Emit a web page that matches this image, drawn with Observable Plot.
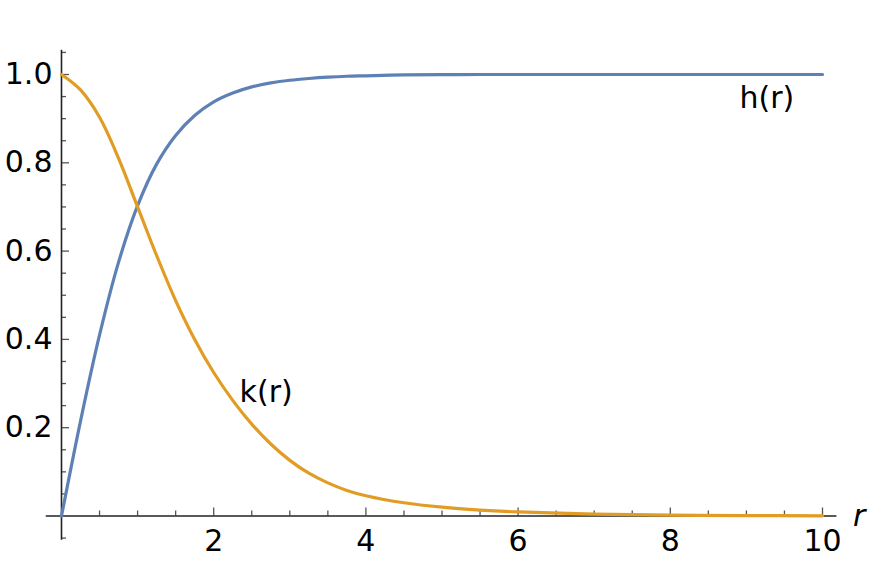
<!DOCTYPE html>
<html>
<head>
<meta charset="utf-8">
<script src="https://cdn.jsdelivr.net/npm/d3@7"></script>
<script src="https://cdn.jsdelivr.net/npm/@observablehq/plot@0.6"></script>
<style>
  html, body { margin: 0; padding: 0; background: #fff; }
</style>
</head>
<body>
<div id="chart"></div>
<script>
// Sample radii and profile values
const rValues = [0, 0.25, 0.5, 0.75, 1.0, 1.25, 1.5, 1.75, 2.0, 2.25, 2.5, 2.75, 3.0, 3.25, 3.5, 3.75, 4.0, 4.5, 5, 5.5, 6, 7, 8, 9, 10];
const hValues = [0, 0.215, 0.41, 0.575, 0.703, 0.797, 0.862, 0.907, 0.938, 0.958, 0.972, 0.981, 0.987, 0.991, 0.994, 0.996, 0.997, 0.999, 0.9997, 1, 1, 1, 1, 1, 1];
const kValues = [1, 0.965, 0.903, 0.81, 0.70, 0.59, 0.488, 0.40, 0.325, 0.262, 0.208, 0.163, 0.126, 0.097, 0.075, 0.058, 0.046, 0.030, 0.020, 0.0135, 0.0092, 0.0044, 0.002, 0.0009, 0.0004];

// Tick positions and labels
const xMajorTicks = [2, 4, 6, 8, 10];
const xMinorTicks = [0.5, 1, 1.5, 2.5, 3, 3.5, 4.5, 5, 5.5, 6.5, 7, 7.5, 8.5, 9, 9.5];
const yMajorTicks = [0.2, 0.4, 0.6, 0.8, 1.0];
const yMinorTicks = [-0.05, 0.05, 0.1, 0.15, 0.25, 0.3, 0.35, 0.45, 0.5, 0.55, 0.65, 0.7, 0.75, 0.85, 0.9, 0.95, 1.05];
const xTickLabels = ["2", "4", "6", "8", "10"];
const yTickLabels = ["0.2", "0.4", "0.6", "0.8", "1.0"];

const hData = rValues.map((r, i) => ({r, v: hValues[i]}));
const kData = rValues.map((r, i) => ({r, v: kValues[i]}));

const blue = "#5E81B5";
const orange = "#E19C24";
const tickColor = "#555";
const font = "DejaVu Sans";

const chart = Plot.plot({
  width: 875,
  height: 561,
  marginLeft: 61,
  marginRight: 53,
  marginTop: 74,
  marginBottom: 45.5,
  style: {fontFamily: font, fontSize: "30px", background: "#fff", color: "#000", overflow: "visible"},
  x: {domain: [0, 10], label: null},
  y: {domain: [0, 1], label: null},
  marks: [
    // minor and major ticks (pointing into the plot)
    Plot.axisX({ticks: xMinorTicks, tickSize: 5, dy: -5, tickFormat: () => "", stroke: tickColor, strokeWidth: 1.3, label: null}),
    Plot.axisX({ticks: xMajorTicks, tickSize: 8, dy: -8, tickFormat: () => "", stroke: tickColor, strokeWidth: 1.3, label: null}),
    Plot.axisY({ticks: yMinorTicks, tickSize: 5, dx: 5, tickFormat: () => "", stroke: tickColor, strokeWidth: 1.3, label: null}),
    Plot.axisY({ticks: yMajorTicks, tickSize: 8, dx: 8, tickFormat: () => "", stroke: tickColor, strokeWidth: 1.3, label: null}),
    // tick labels
    Plot.axisX({ticks: xMajorTicks, tickSize: 0, tickPadding: 14, tickFormat: (d) => xTickLabels[xMajorTicks.indexOf(d)], fill: "#000", fontSize: 30, label: null}),
    Plot.axisY({ticks: yMajorTicks, tickSize: 0, tickPadding: 9, tickFormat: (d) => yTickLabels[yMajorTicks.indexOf(d)], fill: "#000", fontSize: 30, label: null}),
    // axis lines
    Plot.ruleY([0], {x1: -0.2, x2: 10.19, stroke: "#222", strokeWidth: 1.6}),
    Plot.ruleX([0], {y1: -0.055, y2: 1.055, stroke: "#222", strokeWidth: 1.6}),
    // curves
    Plot.line(hData, {x: "r", y: "v", stroke: blue, strokeWidth: 3.2, curve: "catmull-rom"}),
    Plot.line(kData, {x: "r", y: "v", stroke: orange, strokeWidth: 3.2, curve: "catmull-rom"}),
    // labels
    Plot.text(["h(r)"], {x: 8.91, y: 0.947, text: d => d, textAnchor: "start", fontSize: 30, fill: "#000"}),
    Plot.text(["k(r)"], {x: 2.34, y: 0.279, text: d => d, textAnchor: "start", fontSize: 30, fill: "#000"}),
    Plot.text(["r"], {x: 10.4, y: 0, text: d => d, textAnchor: "start", fontSize: 30, fontStyle: "italic", fill: "#000"})
  ]
});
document.getElementById("chart").appendChild(chart);
</script>
</body>
</html>
